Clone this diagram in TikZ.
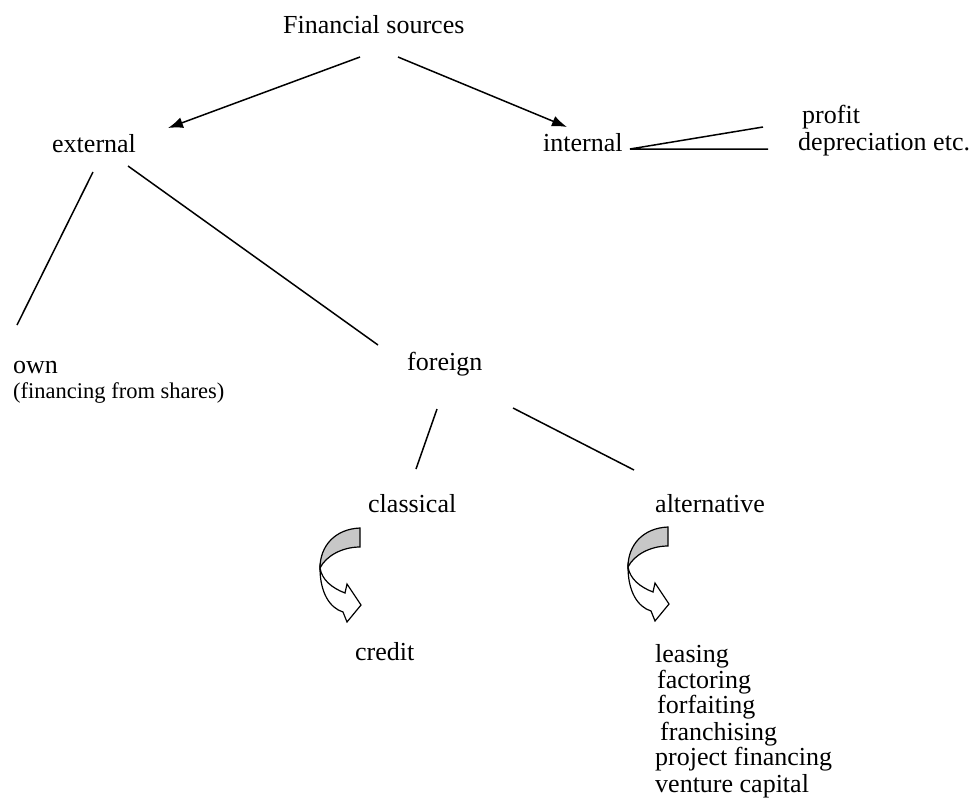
\documentclass[tikz,border=0pt]{standalone}
\usepackage{fontspec}
\setmainfont{Liberation Serif}
\usetikzlibrary{arrows.meta}
\tikzset{
  lbl/.style={anchor=base west, inner sep=0pt, font=\fontsize{26}{30}\selectfont},
  small/.style={anchor=base west, inner sep=0pt, font=\fontsize{22.5}{26}\selectfont},
  ln/.style={line width=1.5pt, black},
  arr/.style={ln, -{Latex[length=15pt,width=11pt]}},
  curvearrow/.pic={
    \draw[line width=1.2pt, fill=white]
      (-40,40) .. controls (-40,65) and (-30,80) .. (-17,84)
      -- (-13,94) -- (1,77) -- (-13,56) -- (-15,65)
      .. controls (-28,60) and (-38,52) .. (-40,40) -- cycle;
    \draw[line width=1.2pt, fill=black!22]
      (0,0) .. controls (-25,1) and (-40,18) .. (-40,40)
      .. controls (-34,28) and (-18,19) .. (0,19) -- cycle;
  }
}
\begin{document}
\begin{tikzpicture}[x=1pt,y=-1pt]
\useasboundingbox (0,0) rectangle (974,811);
% texts
\node[lbl] (fs) at (283,33) {Financial sources};
\node[lbl] (ext) at (52,152) {external};
\node[lbl] (int) at (543,151) {internal};
\node[lbl] (profit) at (802,123) {profit};
\node[lbl] (depr) at (798,150) {depreciation etc.};
\node[lbl] (own) at (13,373) {own};
\node[small] (shares) at (13,398) {(financing from shares)};
\node[lbl] (foreign) at (407,370) {foreign};
\node[lbl] (classical) at (368,512) {classical};
\node[lbl] (altern) at (655,512) {alternative};
\node[lbl] (credit) at (355,660) {credit};
\node[lbl] (l1) at (655,662) {leasing};
\node[lbl] (l2) at (657,688) {factoring};
\node[lbl] (l3) at (657,713) {forfaiting};
\node[lbl] (l4) at (660,740) {franchising};
\node[lbl] (l5) at (655,765) {project financing};
\node[lbl] (l6) at (655,792) {venture capital};
% connector end points
\coordinate (fsL) at (360,57);
\coordinate (fsR) at (398,57);
\coordinate (extT) at (168,128);
\coordinate (intT) at (567,127);
\coordinate (intR) at (630,149);
\coordinate (profL) at (763,127);
\coordinate (deprL) at (768,149);
\coordinate (extA) at (93,172);
\coordinate (ownT) at (17,325);
\coordinate (extB) at (128,166);
\coordinate (forT) at (378,345);
\coordinate (forA) at (437,409);
\coordinate (claT) at (416,469);
\coordinate (forB) at (513,408);
\coordinate (altT) at (634,470);
% connectors
\draw[arr] (fsL) -- (extT);
\draw[arr] (fsR) -- (intT);
\draw[ln] (profL) -- (intR) -- (deprL);
\draw[ln] (extA) -- (ownT);
\draw[ln] (extB) -- (forT);
\draw[ln] (forA) -- (claT);
\draw[ln] (forB) -- (altT);
% curved arrows
\pic at (360,528) {curvearrow};
\pic at (668,527) {curvearrow};
\end{tikzpicture}
\end{document}
